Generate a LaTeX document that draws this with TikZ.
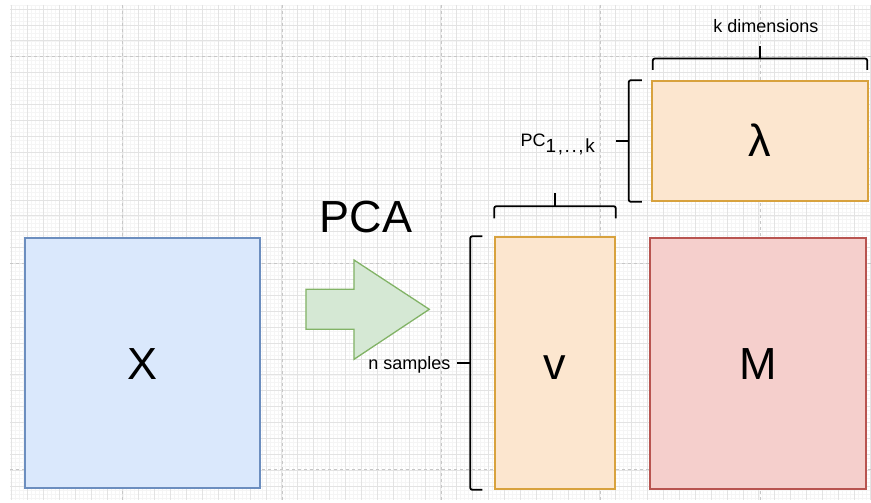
\documentclass[tikz,border=0pt]{standalone}
\usepackage{fontspec}
\setmainfont{Liberation Sans}
\usetikzlibrary{positioning}

\definecolor{xfill}{HTML}{DAE8FC}
\definecolor{xline}{HTML}{6C8EBF}
\definecolor{ofill}{HTML}{FCE6CF}
\definecolor{oline}{HTML}{D8A23E}
\definecolor{mfill}{HTML}{F5CFCC}
\definecolor{mline}{HTML}{B85450}
\definecolor{gfill}{HTML}{D5E8D4}
\definecolor{gline}{HTML}{82B366}

\begin{document}
\begin{tikzpicture}[
  x=1pt, y=-1pt,
  big/.style={font=\fontsize{45}{50}\selectfont},
  mat/.style={big, draw, line width=1.5pt, inner sep=0pt,
              text height=32pt, text depth=0pt},
  inp/.style={mat, draw=xline, fill=xfill},
  res/.style={mat, draw=oline, fill=ofill},
  mean/.style={mat, draw=mline, fill=mfill},
  flow/.style={draw=gline, fill=gfill, line width=1.3pt, line join=miter},
  brk/.style={line width=1.8pt, rounded corners=2pt},
  lbl/.style={font=\fontsize{18}{20}\selectfont, inner sep=0pt,
              text height=12pt, text depth=0pt},
  finegrid/.style={line width=0.4pt, black!4},
  midgrid/.style={line width=0.6pt, black!11},
  pagegrid/.style={line width=0.8pt, black!22, dash pattern=on 3pt off 3pt},
]
\useasboundingbox (0,0) rectangle (871,503);

% --- background grid ----------------------------------------------------
\foreach \i in {0,...,216} \draw[finegrid] (11.4+\i*3.975,5) -- (11.4+\i*3.975,500);
\foreach \i in {0,...,124} \draw[finegrid] (10,5.025+\i*3.975) -- (871,5.025+\i*3.975);
\foreach \i in {0,...,54} \draw[midgrid] (11.4+\i*15.9,5) -- (11.4+\i*15.9,500);
\foreach \i in {0,...,30} \draw[midgrid] (10,9+\i*15.9) -- (871,9+\i*15.9);
\foreach \i in {0,...,4} \draw[pagegrid] (122.7+\i*159.3,5) -- (122.7+\i*159.3,500);
\foreach \i in {0,...,2} \draw[pagegrid] (10,56.7+\i*206.3) -- (871,56.7+\i*206.3);

% --- matrices -----------------------------------------------------------
\node[inp, minimum width=235pt, minimum height=250pt] (x) at (142.5,363) {X};
\node[res, minimum width=120pt, minimum height=252pt] (v) at (555,363) {v};
\node[mean, minimum width=216pt, minimum height=251pt] (m) at (758,363.5) {M};
\node[res, minimum width=216pt, minimum height=120pt] (lam) at (760,141) {λ};

% --- PCA step: block arrow and its title
\draw[flow] (306,289.3) -- (354,289.3) -- (354,260) -- (429.3,309.3)
            -- (354,359.3) -- (354,329.3) -- (306,329.3) -- cycle;
\node[big, inner sep=0pt] (pca) at (366,217) {PCA};

% --- brackets: rows of v, columns of v, rows and columns of lambda ------
\draw[brk] ([xshift=-12pt]v.north west) -- ([xshift=-24pt]v.north west)
        -- ([xshift=-24pt]v.south west) -- ([xshift=-12pt]v.south west);
\draw[brk] ([xshift=-24pt]v.west) -- ++(-13,0)
        node[lbl, anchor=east, inner xsep=6pt] (rows) {n samples};

\draw[brk] ([yshift=18pt]v.north west) -- ([yshift=30pt]v.north west)
        -- ([yshift=30pt]v.north east) -- ([yshift=18pt]v.north east);
\draw[brk] ([yshift=30pt]v.north) -- ++(0,-13);

\draw[brk] ([xshift=-9.5pt]lam.north west) -- ([xshift=-22.5pt]lam.north west)
        -- ([xshift=-22.5pt]lam.south west) -- ([xshift=-9.5pt]lam.south west);
\draw[brk] ([xshift=-22.5pt]lam.west) -- ++(-13,0)
        node[lbl, anchor=east, inner xsep=20pt, yshift=-6pt] (pcs)
        {\raisebox{6pt}{PC}{\fontsize{19}{21}\selectfont
         1\kern1.6pt,\kern1.6pt.\kern1.6pt.\kern1.6pt,\kern1.6pt k}};

\draw[brk] ([xshift=1.5pt,yshift=10.3pt]lam.north west)
        -- ([xshift=1.5pt,yshift=21.7pt]lam.north west)
        -- ([xshift=-1.5pt,yshift=21.7pt]lam.north east)
        -- ([xshift=-1.5pt,yshift=10.3pt]lam.north east);
\draw[brk] ([yshift=21.7pt]lam.north) -- ++(0,-13)
        node[lbl, above=12pt, xshift=6pt] (cols) {k dimensions};
\end{tikzpicture}
\end{document}
